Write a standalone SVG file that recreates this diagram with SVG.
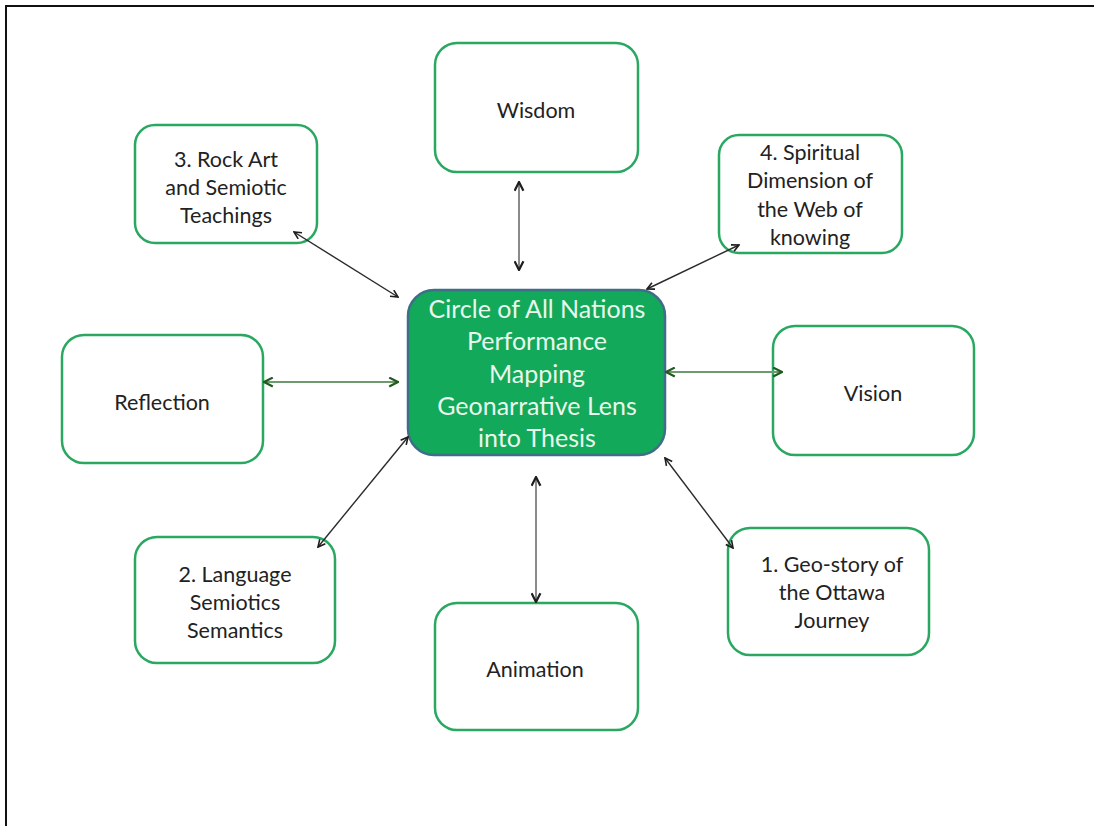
<svg xmlns="http://www.w3.org/2000/svg" width="1094" height="826" viewBox="0 0 1094 826">
<style>
.box{fill:#fff;stroke:#2aa862;stroke-width:2.5}
.lbl{font-family:Lato,"Open Sans","Liberation Sans",sans-serif;font-size:21.5px;fill:#222;text-anchor:middle}
.ctr{font-family:Lato,"Open Sans","Liberation Sans",sans-serif;font-size:25px;fill:#eaf7ec;text-anchor:middle}
.dk{stroke:#2a2a2a;stroke-width:1.4;fill:none}
.gr{stroke:#8a8a8a;stroke-width:2;fill:none}
.gn{stroke:#6f9a6f;stroke-width:2;fill:none}
</style>
<defs>
<marker id="ak" viewBox="0 0 10 10" refX="9" refY="5" markerWidth="9" markerHeight="9" markerUnits="userSpaceOnUse" orient="auto-start-reverse">
<path d="M1,1 L9,5 L1,9" fill="none" stroke="#1e1e1e" stroke-width="1.8"/>
</marker>
<marker id="ag" viewBox="0 0 10 10" refX="9" refY="5" markerWidth="11" markerHeight="11" markerUnits="userSpaceOnUse" orient="auto-start-reverse">
<path d="M1,1 L9,5 L1,9" fill="none" stroke="#1f5a1f" stroke-width="2"/>
</marker>
<marker id="av" viewBox="0 0 10 10" refX="9" refY="5" markerWidth="11" markerHeight="11" markerUnits="userSpaceOnUse" orient="auto-start-reverse">
<path d="M1,1 L9,5 L1,9" fill="none" stroke="#1e1e1e" stroke-width="2"/>
</marker>
</defs>
<rect width="1094" height="826" fill="#fff"/>
<rect x="6" y="6" width="1200" height="1000" fill="none" stroke="#111" stroke-width="2"/>
<g id="center">
<rect x="408" y="290" width="257" height="165" rx="26" fill="#12a95a" stroke="#3f6e86" stroke-width="2.5"/>
<text class="ctr" x="537" y="318">Circle of All Nations</text>
<text class="ctr" x="537" y="350">Performance</text>
<text class="ctr" x="537" y="383">Mapping</text>
<text class="ctr" x="537" y="415">Geonarrative Lens</text>
<text class="ctr" x="537" y="447">into Thesis</text>
</g>
<g id="wisdom">
<rect class="box" x="435" y="43" width="203" height="129" rx="22"/>
<text class="lbl" x="536" y="118">Wisdom</text>
</g>
<g id="rockart">
<rect class="box" x="135" y="125" width="182" height="118" rx="20"/>
<text class="lbl" x="226" y="167">3. Rock Art</text>
<text class="lbl" x="226" y="195">and Semiotic</text>
<text class="lbl" x="226" y="223">Teachings</text>
</g>
<g id="spiritual">
<rect class="box" x="719" y="135" width="183" height="118" rx="20"/>
<text class="lbl" x="810" y="160">4. Spiritual</text>
<text class="lbl" x="810" y="188">Dimension of</text>
<text class="lbl" x="810" y="217">the Web of</text>
<text class="lbl" x="810" y="245">knowing</text>
</g>
<g id="reflection">
<rect class="box" x="62" y="335" width="201" height="128" rx="22"/>
<text class="lbl" x="162" y="410">Reflection</text>
</g>
<g id="vision">
<rect class="box" x="773" y="326" width="201" height="129" rx="22"/>
<text class="lbl" x="873" y="401">Vision</text>
</g>
<g id="language">
<rect class="box" x="135" y="537" width="200" height="126" rx="22"/>
<text class="lbl" x="235" y="582">2. Language</text>
<text class="lbl" x="235" y="610">Semiotics</text>
<text class="lbl" x="235" y="638">Semantics</text>
</g>
<g id="animation">
<rect class="box" x="435" y="603" width="203" height="127" rx="22"/>
<text class="lbl" x="535" y="677">Animation</text>
</g>
<g id="geostory">
<rect class="box" x="728" y="528" width="201" height="127" rx="22"/>
<text class="lbl" x="832" y="572">1. Geo-story of</text>
<text class="lbl" x="832" y="600">the Ottawa</text>
<text class="lbl" x="832" y="628">Journey</text>
</g>
<g id="connectors">
<line class="gr" x1="519" y1="182" x2="519" y2="270" marker-start="url(#av)" marker-end="url(#av)"/>
<line class="gr" x1="536" y1="477" x2="536" y2="602" marker-start="url(#av)" marker-end="url(#av)"/>
<line class="gn" x1="264" y1="382" x2="398" y2="382" marker-start="url(#ag)" marker-end="url(#ag)"/>
<line class="gn" x1="666" y1="372" x2="782" y2="372" marker-start="url(#ag)" marker-end="url(#ag)"/>
<line class="dk" x1="294" y1="232" x2="398" y2="297" marker-start="url(#ak)" marker-end="url(#ak)"/>
<line class="dk" x1="739" y1="245" x2="647" y2="289" marker-start="url(#ak)" marker-end="url(#ak)"/>
<line class="dk" x1="408" y1="437" x2="318" y2="547" marker-start="url(#ak)" marker-end="url(#ak)"/>
<line class="dk" x1="665" y1="458" x2="733" y2="548" marker-start="url(#ak)" marker-end="url(#ak)"/>
</g>
</svg>
